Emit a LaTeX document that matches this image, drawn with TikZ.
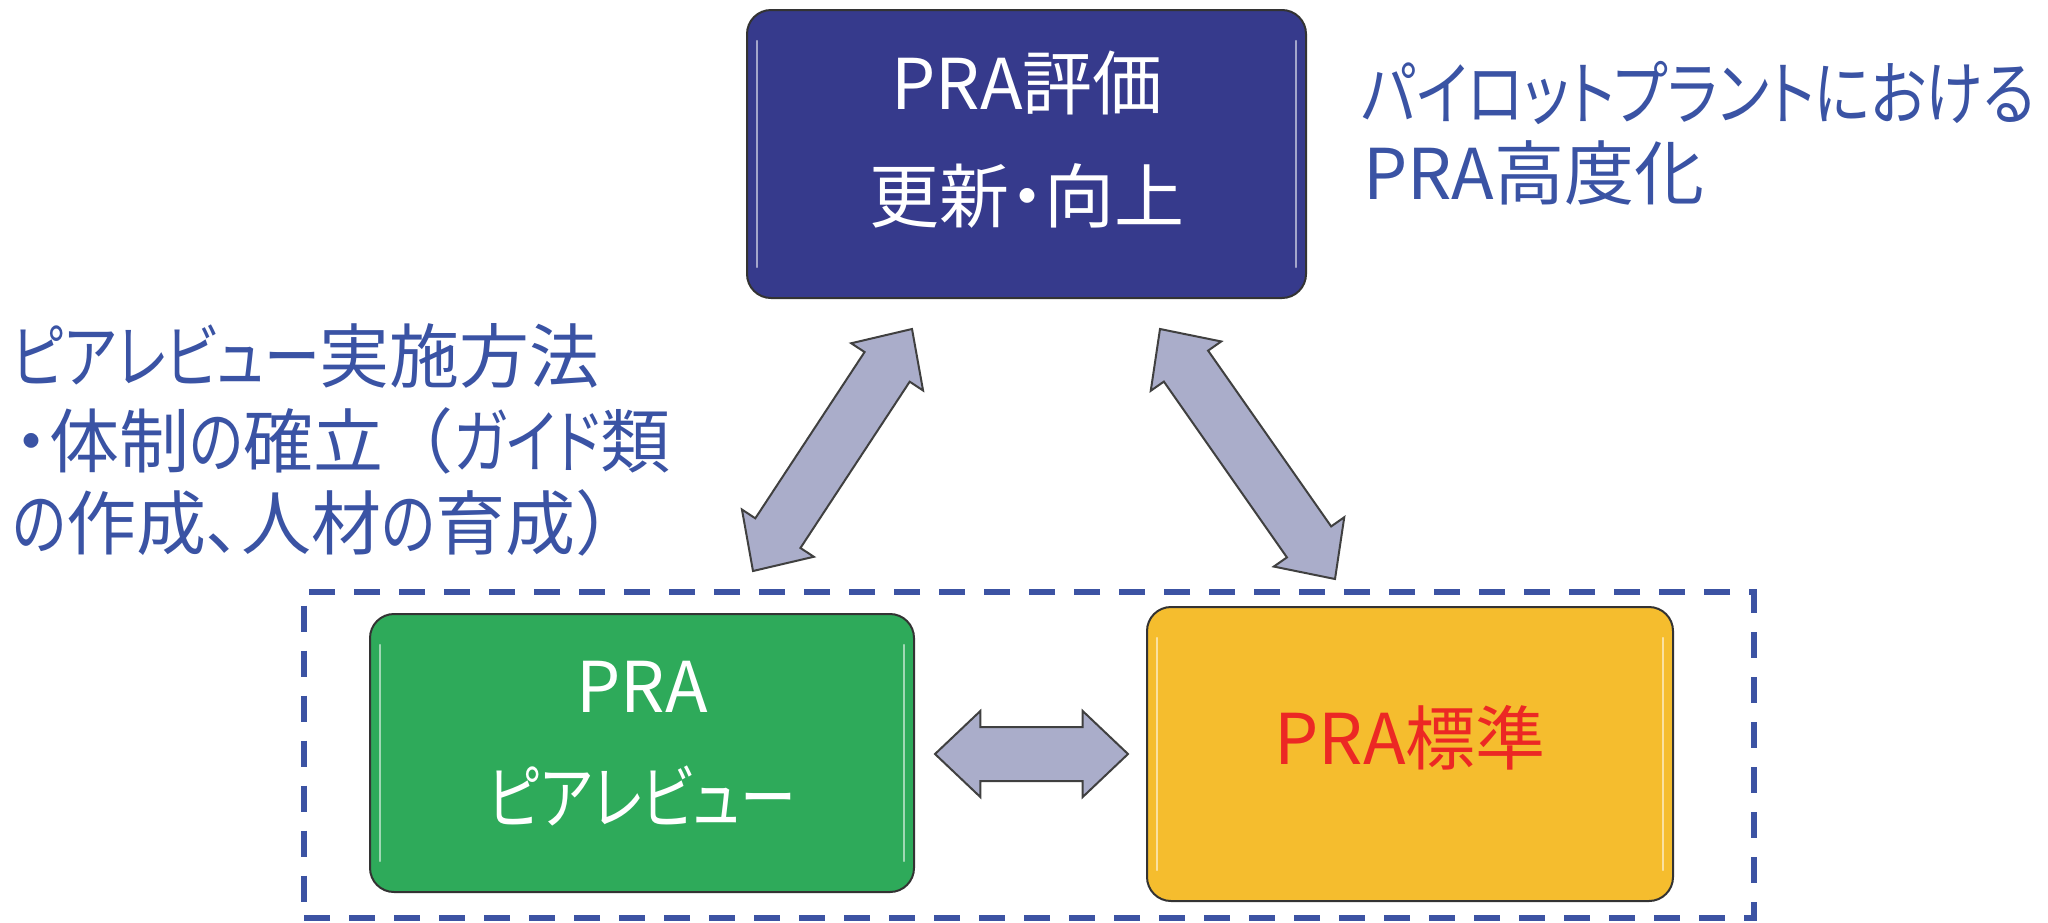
\documentclass[tikz,border=0pt]{standalone}
\usepackage{fontspec}
\setmainfont{Noto Sans CJK JP}[RawFeature=+palt]
\newfontfamily\fwfont{Noto Sans CJK JP}
\newfontfamily\kanafont{Noto Sans CJK JP}[RawFeature=+palt, FakeStretch=0.8]
\newfontfamily\kanawidefont{Noto Sans CJK JP}[RawFeature=+palt, FakeStretch=0.83]
\newcommand{\kanatxt}[1]{{\kanafont #1}}
\usetikzlibrary{shapes.arrows,calc}
\definecolor{boxblue}{RGB}{54,58,140}
\definecolor{boxgreen}{RGB}{46,170,90}
\definecolor{boxyellow}{RGB}{245,189,46}
\definecolor{txtred}{RGB}{236,40,36}
\definecolor{txtblue}{RGB}{58,83,164}
\definecolor{dashblue}{RGB}{60,83,163}
\definecolor{arrowfill}{RGB}{170,173,202}
\begin{document}
\begin{tikzpicture}[x=0.5pt,y=-0.5pt,
  box/.style={draw=black!80, line width=1pt, rounded corners=12pt, inner sep=0pt},
  lbl/.style={font=\fontsize{35}{42}\selectfont, inner sep=0pt, text height=0.88em, text depth=0.12em},
  blockarrow/.style={double arrow, draw=black!75, line width=1pt, fill=arrowfill, inner xsep=0pt, inner ysep=13pt, double arrow head extend=8pt, double arrow tip angle=87, minimum width=0pt},
  gloss/.style={white, opacity=0.55, line width=1.2pt, line cap=round},
  grpbox/.style={draw=dashblue, line width=3pt, dash pattern=on 13pt off 9.5pt, inner sep=0pt}
]
\useasboundingbox (0,0) rectangle (2048,922);

% dashed group frame
\node[grpbox, minimum width=725pt, minimum height=163pt] (grp) at (1029,754.5) {};

% boxes
\node[box, fill=boxblue, minimum width=279.5pt, minimum height=144pt] (eval) at (1026.5,154) {};
\node[box, fill=boxgreen, minimum width=272pt, minimum height=139pt] (peer) at (642,753) {};
\node[box, fill=boxyellow, minimum width=263pt, minimum height=147pt] (std) at (1410,754) {};

% gloss highlights
\foreach \b in {eval,peer,std}{
  \draw[gloss] ($(\b.north west)+(11,32)$) -- ($(\b.south west)+(11,-32)$);
  \draw[gloss] ($(\b.north east)+(-11,32)$) -- ($(\b.south east)+(-11,-32)$);
}

% box texts
\node[lbl, white] (evalA) at (1027,102) {PRA評価};
\node[lbl, white] (evalB) at (1027,215) {更新・向上};
\node[lbl, white] (peerA) at (642,705) {PRA};
\node[lbl, white] (peerB) at (642,816) {\kanatxt{ピアレビュー}};
\node[lbl, txtred] (stdA) at (1410,757) {PRA標準};

% block arrows
\coordinate (la1) at (753,571);
\coordinate (la2) at (912,329);
\coordinate (ra1) at (1335,579);
\coordinate (ra2) at (1160,329);
\coordinate (ha1) at ($(peer.east)+(21,1)$);
\coordinate (ha2) at ($(std.west)+(-19,0)$);
\path (la1) -- (la2) node[midway, sloped, blockarrow, minimum height=144.8pt] (arrL) {};
\path (ra1) -- (ra2) node[midway, sloped, blockarrow, minimum height=152.6pt] (arrR) {};
\path (ha1) -- (ha2) node[midway, sloped, blockarrow, minimum height=96.5pt] (arrH) {};

% side texts
\node[lbl, txtblue, anchor=west] (note1) at (12,375) {\kanatxt{ピアレビュー}実施方法};
\node[lbl, txtblue, anchor=west] (note2) at (14,460) {・体制\kanatxt{の}確立{\fwfont （}\kanatxt{ガイド}類};
\node[lbl, txtblue, anchor=west] (note3) at (12,542) {\kanatxt{の}作成、人材\kanatxt{の}育成{\fwfont ）}};
\node[lbl, txtblue, anchor=west] (note4) at (1361,112) {{\kanawidefont パイロットプラントにおける}};
\node[lbl, txtblue, anchor=west] (note5) at (1363,192) {PRA高度化};
\end{tikzpicture}
\end{document}
